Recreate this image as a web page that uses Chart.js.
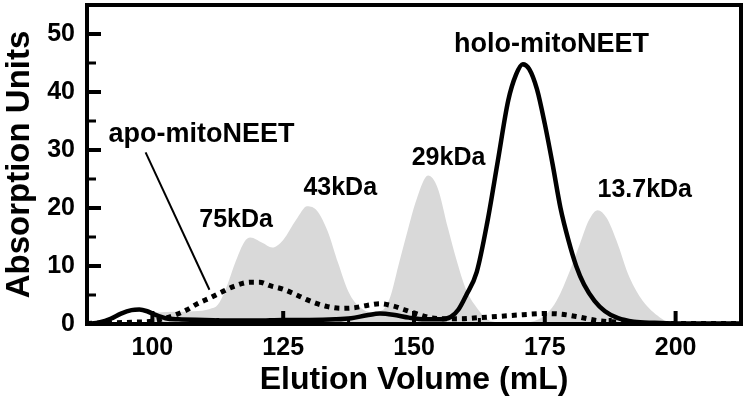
<!DOCTYPE html>
<html>
<head>
<meta charset="utf-8">
<script src="https://cdn.jsdelivr.net/npm/chart.js@4.4.1/dist/chart.umd.min.js"></script>
<style>
  html, body { margin: 0; padding: 0; background: #fff; }
  canvas { display: block; }
</style>
</head>
<body>
<canvas id="secChart" width="750" height="407"></canvas>
<script>
// Cromatograma de exclusão por tamanho (mitoNEET)

// padrões de massa molecular (área cinza)
const standardVolume = [99.5, 100, 101, 104, 108, 111, 112.5, 114, 116, 117.6, 118.7, 121, 122.9, 125, 127.5, 129.6, 131.5, 133.5, 135.5, 137.5, 139.5, 142, 144, 145.5, 147, 148.7, 150.5, 152.7, 154.5, 156.5, 158.2, 160, 162, 164, 166, 170, 173, 175.4, 177.3, 179.8, 181.7, 183.5, 185.1, 186.8, 188.7, 191.2, 193.7, 197, 199];
const standardAbs    = [0, 2.0, 2.0, 2.1, 2.2, 2.6, 3.3, 6.0, 11.0, 14.2, 14.9, 14.0, 13.2, 14.5, 18.0, 20.3, 19.5, 16.0, 10.5, 5.5, 3.0, 2.0, 2.4, 4.8, 10.0, 15.8, 21.5, 25.6, 23.5, 16.5, 10.8, 5.8, 2.8, 0.8, 0.3, 0.2, 0.5, 1.8, 4.1, 9.2, 13.8, 18.0, 19.6, 18.3, 14.4, 8.0, 4.0, 1.1, 0];

// holo-mitoNEET (linha cheia)
const holoVolume = [87.5, 90, 92, 94, 96, 97.5, 99, 100.5, 102.5, 105, 110, 115, 120, 125, 130, 135, 138, 141, 143.5, 146, 149, 152, 155, 157, 158.5, 160, 162, 164, 166, 168, 169.5, 170.8, 172, 173.5, 175, 176.5, 178, 179.5, 181, 182.5, 184.5, 186.5, 189, 192, 196, 200, 205, 212.5];
const holoAbs    = [0, 0.3, 0.9, 1.8, 2.4, 2.5, 2.2, 1.6, 1.0, 0.8, 0.7, 0.6, 0.6, 0.7, 0.7, 0.8, 1.0, 1.5, 1.8, 1.6, 1.1, 0.8, 0.8, 1.2, 2.5, 5.0, 9.0, 17.5, 28.0, 38.5, 43.0, 44.8, 44.0, 40.5, 34.5, 27.5, 20.0, 14.5, 10.0, 6.8, 4.0, 2.2, 1.0, 0.4, 0.2, 0.1, 0.1, 0.1];

// apo-mitoNEET (linha pontilhada)
const apoVolume = [87.5, 92, 96, 100, 102, 104.2, 106.5, 108.6, 111, 113, 115.6, 118.7, 120.5, 122.5, 125, 127.1, 129.5, 131.5, 133.5, 136, 138.5, 141, 143.5, 146, 148, 150, 153, 156, 159, 162.6, 166, 170.8, 175, 178, 181, 185, 189, 192, 200, 212.5];
const apoAbs    = [0.1, 0.2, 0.3, 0.5, 0.9, 1.5, 2.4, 3.5, 4.5, 5.4, 6.5, 7.2, 7.2, 6.6, 6.0, 5.2, 4.2, 3.5, 3.0, 2.7, 2.8, 3.2, 3.5, 3.1, 2.5, 1.9, 1.1, 0.9, 0.9, 1.1, 1.3, 1.6, 1.8, 1.7, 1.3, 0.6, 0.3, 0.1, 0.1, 0.1];

// ticks
const xTickValues = [100, 125, 150, 175, 200];
const xMinorValues = [112.5, 137.5, 162.5, 187.5];
const yTickValues = [0, 10, 20, 30, 40, 50];
const yMinorValues = [5, 15, 25, 35, 45];

// rótulos no gráfico (coordenadas em mL / unidades)
const proteinLabels = ['holo-mitoNEET', 'apo-mitoNEET'];
const proteinLabelX = [176.3, 109.4];
const proteinLabelY = [46.9, 31.4];
const standardLabels = ['75kDa', '43kDa', '29kDa', '13.7kDa'];
const standardLabelX = [116.0, 135.9, 156.6, 194.1];
const standardLabelY = [16.7, 22.2, 27.4, 21.9];
const apoPointer = [[98.7, 29.6], [110.9, 5.9]];

const FONT = '"Liberation Sans", Arial, Helvetica, sans-serif';

function toPoints(xs, ys) {
    return xs.map((x, i) => ({ x: x, y: ys[i] }));
}

// sem folga extra para os rótulos das pontas
function noPadding(s) {
    s.paddingTop = 0;
    s.paddingBottom = 0;
    s.paddingLeft = 0;
    s.paddingRight = 0;
}

// moldura, ticks internos e rótulos
const framePlugin = {
    id: 'frame',
    afterDraw(chart) {
        const ctx = chart.ctx;
        const area = chart.chartArea;
        const xs = chart.scales.x;
        const ys = chart.scales.y;
        ctx.save();
        ctx.strokeStyle = '#000';
        ctx.fillStyle = '#000';

        // ticks para dentro
        ctx.lineWidth = 4;
        ctx.beginPath();
        xTickValues.forEach(v => {
            const px = xs.getPixelForValue(v);
            ctx.moveTo(px, area.bottom);
            ctx.lineTo(px, area.bottom - 13);
        });
        yTickValues.forEach(v => {
            const py = ys.getPixelForValue(v);
            ctx.moveTo(area.left, py);
            ctx.lineTo(area.left + 14, py);
        });
        ctx.stroke();
        ctx.lineWidth = 3;
        ctx.beginPath();
        xMinorValues.forEach(v => {
            const px = xs.getPixelForValue(v);
            ctx.moveTo(px, area.bottom);
            ctx.lineTo(px, area.bottom - 6);
        });
        yMinorValues.forEach(v => {
            const py = ys.getPixelForValue(v);
            ctx.moveTo(area.left, py);
            ctx.lineTo(area.left + 9, py);
        });
        ctx.stroke();

        // moldura
        ctx.lineWidth = 4;
        ctx.strokeRect(area.left, area.top, area.right - area.left, area.bottom - area.top);

        // seta do apo
        ctx.lineWidth = 2;
        ctx.beginPath();
        ctx.moveTo(xs.getPixelForValue(apoPointer[0][0]), ys.getPixelForValue(apoPointer[0][1]));
        ctx.lineTo(xs.getPixelForValue(apoPointer[1][0]), ys.getPixelForValue(apoPointer[1][1]));
        ctx.stroke();

        // rótulos dos picos
        ctx.textAlign = 'center';
        ctx.textBaseline = 'alphabetic';
        ctx.font = 'bold 27px ' + FONT;
        proteinLabels.forEach((txt, i) => {
            ctx.fillText(txt, xs.getPixelForValue(proteinLabelX[i]), ys.getPixelForValue(proteinLabelY[i]));
        });
        ctx.font = 'bold 25px ' + FONT;
        standardLabels.forEach((txt, i) => {
            ctx.fillText(txt, xs.getPixelForValue(standardLabelX[i]), ys.getPixelForValue(standardLabelY[i]));
        });
        ctx.restore();
    }
};

const ctx = document.getElementById('secChart').getContext('2d');

new Chart(ctx, {
    type: 'line',
    data: {
        datasets: [
            {
                label: 'holo-mitoNEET',
                data: toPoints(holoVolume, holoAbs),
                borderColor: '#000',
                borderWidth: 4.5,
                pointRadius: 0,
                fill: false,
                cubicInterpolationMode: 'monotone',
                order: 1
            },
            {
                label: 'apo-mitoNEET',
                data: toPoints(apoVolume, apoAbs),
                borderColor: '#000',
                borderWidth: 5,
                borderDash: [5, 5],
                borderCapStyle: 'butt',
                pointRadius: 0,
                fill: false,
                cubicInterpolationMode: 'monotone',
                order: 2
            },
            {
                label: 'Padrões',
                data: toPoints(standardVolume, standardAbs),
                borderWidth: 0,
                borderColor: 'rgba(0,0,0,0)',
                backgroundColor: '#d9d9d9',
                pointRadius: 0,
                fill: 'origin',
                cubicInterpolationMode: 'monotone',
                order: 3
            }
        ]
    },
    options: {
        responsive: false,
        animation: false,
        devicePixelRatio: 1,
        layout: { padding: { top: 5, right: 9, left: 0, bottom: 0 } },
        plugins: {
            legend: { display: false },
            tooltip: { enabled: false }
        },
        scales: {
            x: {
                type: 'linear',
                min: 87.5,
                max: 212.5,
                grid: { display: false, drawTicks: false },
                border: { display: false },
                afterBuildTicks: s => { s.ticks = xTickValues.map(v => ({ value: v })); },
                afterFit: s => { s.height = 83; noPadding(s); },
                ticks: {
                    color: '#000',
                    padding: 9,
                    maxRotation: 0,
                    font: { family: FONT, size: 25, weight: 'bold' }
                },
                title: {
                    display: true,
                    text: 'Elution Volume (mL)',
                    color: '#000',
                    padding: { top: 0, bottom: 8 },
                    font: { family: FONT, size: 32, weight: 'bold' }
                }
            },
            y: {
                min: 0,
                max: 55,
                grid: { display: false, drawTicks: false },
                border: { display: false },
                afterBuildTicks: s => { s.ticks = yTickValues.map(v => ({ value: v })); },
                afterFit: s => { s.width = 87; noPadding(s); },
                ticks: {
                    color: '#000',
                    padding: 12,
                    font: { family: FONT, size: 25, weight: 'bold' }
                },
                title: {
                    display: true,
                    text: 'Absorption Units',
                    color: '#000',
                    padding: 0,
                    font: { family: FONT, size: 33, weight: 'bold' }
                }
            }
        }
    },
    plugins: [framePlugin]
});
</script>
</body>
</html>
